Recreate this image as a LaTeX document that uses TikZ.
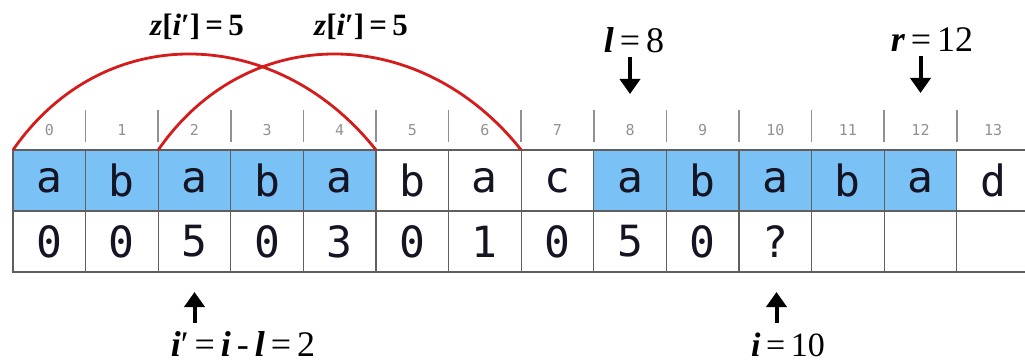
\documentclass[tikz,border=0pt]{standalone}
\usepackage{fontspec}
\setmainfont{Liberation Serif}
\newfontfamily\cellfont{DejaVu Sans Mono}
\usetikzlibrary{arrows.meta}
\definecolor{cellblue}{RGB}{122,193,246}
\definecolor{arcred}{RGB}{212,28,28}
\definecolor{gridgray}{RGB}{95,95,95}
\definecolor{idxgray}{RGB}{145,145,145}
\definecolor{ink}{RGB}{20,20,35}
\newcommand{\bi}[1]{{\bfseries\itshape #1}}
\begin{document}
\begin{tikzpicture}[x=1pt,y=-1pt,
  cellbox/.style={draw=gridgray, line width=1.3pt, minimum width=72.6pt, minimum height=61pt,
    inner sep=0pt, outer sep=0pt, font=\cellfont\fontsize{43}{43}\selectfont, text=ink},
  hi/.style={fill=cellblue},
  idx/.style={font=\cellfont\fontsize{15}{15}\selectfont, text=idxgray, inner sep=0pt},
  tick/.style={draw=idxgray, line width=1.6pt},
  arc/.style={draw=arcred, line width=2.8pt},
  ptr/.style={draw=black, line width=4pt, -{Triangle[length=15pt,width=20pt]}},
  lab/.style={inner sep=0pt, text=black}
]
\useasboundingbox (0,0) rectangle (1025,363);
% string row and z row
\foreach \c [count=\k from 0] in {a,b,a,b,a,b,a,c,a,b,a,b,a,d} {
  \pgfmathsetmacro{\cx}{13+72.6*(\k+0.5)}
  \pgfmathtruncatemacro{\isblue}{(\k<5)||(\k>7 && \k<13)}
  \ifnum\isblue=1
    \node[cellbox,hi] (s\k) at (\cx,180.5) {\c};
  \else
    \node[cellbox] (s\k) at (\cx,180.5) {\c};
  \fi
  \node[idx] (n\k) at (\cx,130) {\k};
}
\foreach \v [count=\k from 0] in {0,0,5,0,3,0,1,0,5,0,?,{},{},{}} {
  \pgfmathsetmacro{\cx}{13+72.6*(\k+0.5)}
  \node[cellbox] (z\k) at (\cx,241.5) {\v};
}
% index ticks
\foreach \k in {1,...,13} {
  \pgfmathsetmacro{\tx}{13+72.6*\k}
  \coordinate (ta\k) at (\tx,110);
  \coordinate (tb\k) at (\tx,142);
  \draw[tick] (ta\k) -- (tb\k);
}
% red arcs
\draw[arc] (s0.north west) .. controls +(90,-130) and +(-100,-126) .. (s5.north west);
\draw[arc] (s2.north west) .. controls +(90,-130) and +(-100,-126) .. (s7.north west);
% top labels
\node[lab, font=\fontsize{31}{31}\selectfont] (za) at (197,27) {\bi{z}\textbf{[}\bi{i}\textbf{′]}\,\textbf{=}\,\textbf{5}};
\node[lab, font=\fontsize{31}{31}\selectfont] (zb) at (361,27) {\bi{z}\textbf{[}\bi{i}\textbf{′]}\,\textbf{=}\,\textbf{5}};
\node[lab, font=\fontsize{36}{36}\selectfont] (lab) at (634,40) {\bi{l}\,=\,8};
\node[lab, font=\fontsize{36}{36}\selectfont] (rab) at (932,40) {\bi{r}\,=\,12};
\coordinate (lt) at (630,94);
\coordinate (rt) at (920.5,93);
\draw[ptr] (lt |- lab.south) ++(0,4) coordinate (lf) -- (lt);
\draw[ptr] (rt |- rab.south) ++(0,4) coordinate (rf) -- (rt);
% bottom labels
\node[lab, font=\fontsize{36}{36}\selectfont, anchor=base] (ipl) at (243,356) {\bi{i}′\,=\,\bi{i}\,-\,\bi{l}\,=\,2};
\node[lab, font=\fontsize{34}{34}\selectfont, anchor=base] (il) at (788,356) {\bi{i}\,=\,10};
\coordinate (ipt) at (194.5,292);
\coordinate (it) at (776.5,292);
\coordinate (ipf) at (194.5,323);
\coordinate (if) at (776.5,323);
\draw[ptr] (ipf) -- (ipt);
\draw[ptr] (if) -- (it);
\end{tikzpicture}
\end{document}
